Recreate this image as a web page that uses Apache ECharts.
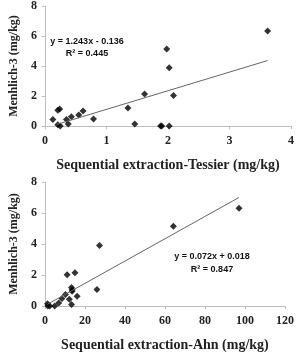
<!DOCTYPE html>
<html><head><meta charset="utf-8">
<script src="https://cdn.jsdelivr.net/npm/echarts@6/dist/echarts.min.js"></script>
<style>html,body{margin:0;padding:0;background:#fff}#c{width:297px;height:359px}</style>
</head><body><div id="c"></div>
<script>
// Top panel: Tessier
const tessierX = [0.13,0.21,0.24,0.21,0.25,0.35,0.38,0.43,0.55,0.62,0.79,1.35,1.46,1.62,1.88,1.90,1.98,2.02,2.02,2.09,3.62];
const tessierY = [0.44,1.05,1.13,0.09,0.00,0.44,0.13,0.61,0.74,1.00,0.46,1.20,0.13,2.14,0.00,0.00,5.14,3.89,0.00,2.03,6.34];
const tessierFit = [1.243,-0.136]; // slope, intercept
const tessierFitX = [0.2,3.62];
const tessierTicksX = [0,1,2,3,4];
const tessierTicksY = [0,2,4,6,8];
// Bottom panel: Ahn
const ahnX = [1.3,1.5,2.4,4.9,6.9,8.5,10.3,11.1,12.2,13.3,13.3,13.6,13.6,15.0,16.1,26.0,27.3,64.2,97.0];
const ahnY = [0.15,0.00,0.00,0.00,0.20,0.48,0.74,2.02,0.43,0.10,1.19,1.05,0.95,2.15,0.63,1.06,3.90,5.14,6.30];
const ahnFit = [0.072,0.018];
const ahnFitX = [1.3,97.0];
const ahnTicksX = [0,20,40,60,80,100,120];
const ahnTicksY = [0,2,4,6,8];
const labels = ['y = 1.243x - 0.136','R\u00b2 = 0.445','y = 0.072x + 0.018','R\u00b2 = 0.847'];
const titlesX = ['Sequential extraction-Tessier (mg/kg)','Sequential extraction-Ahn (mg/kg)'];
const titleY = 'Menhlich-3 (mg/kg)';

const serif = 'Liberation Serif';
const axisCol = '#bdbdbd';
function xAxis(idx, ticks, name){
  return {gridIndex: idx, type:'value', min: ticks[0], max: ticks[ticks.length-1], interval: ticks[1]-ticks[0],
    name: name, nameLocation:'middle', nameGap: 32,
    nameTextStyle:{fontFamily:serif, fontWeight:'bold', fontSize:14, color:'#222'},
    axisLine:{show:true, onZero:false, lineStyle:{color:axisCol}}, axisTick:{show:true, length:3, lineStyle:{color:axisCol}},
    splitLine:{show:false},
    axisLabel:{fontFamily:serif, fontWeight:'bold', fontSize:12, color:'#222', margin:9}};
}
function yAxis(idx, ticks){
  return {gridIndex: idx, type:'value', min: ticks[0], max: ticks[ticks.length-1], interval: ticks[1]-ticks[0],
    name: titleY, nameLocation:'middle', nameGap: 23, nameRotate: 90,
    nameTextStyle:{fontFamily:serif, fontWeight:'bold', fontSize:12, color:'#222'},
    axisLine:{show:true, lineStyle:{color:axisCol}}, axisTick:{show:true, length:3, lineStyle:{color:axisCol}},
    splitLine:{show:false},
    axisLabel:{fontFamily:serif, fontWeight:'bold', fontSize:12, color:'#222', margin:8}};
}
const fitLine = (f, xs) => xs.map(x => [x, f[0]*x + f[1]]);
const zip = (a,b) => a.map((v,i)=>[v,b[i]]);

const chart = echarts.init(document.getElementById('c'), null, {renderer:'canvas'});
chart.setOption({
  animation:false,
  grid:[{left:34, top:4, width:258, height:122},{left:35.5, top:182, width:251, height:124}],
  xAxis:[xAxis(0,tessierTicksX,titlesX[0]), xAxis(1,ahnTicksX,titlesX[1])],
  yAxis:[yAxis(0,tessierTicksY), yAxis(1,ahnTicksY)],
  series:[
    {type:'line', xAxisIndex:0, yAxisIndex:0, data: fitLine(tessierFit, tessierFitX), symbol:'none', lineStyle:{color:'#666', width:1}},
    {type:'scatter', xAxisIndex:0, yAxisIndex:0, data: zip(tessierX,tessierY), symbol:'diamond', symbolSize:7, itemStyle:{color:'#000'}},
    {type:'line', xAxisIndex:1, yAxisIndex:1, data: fitLine(ahnFit, ahnFitX), symbol:'none', lineStyle:{color:'#666', width:1}},
    {type:'scatter', xAxisIndex:1, yAxisIndex:1, data: zip(ahnX,ahnY), symbol:'diamond', symbolSize:7, itemStyle:{color:'#000'}}
  ],
  graphic:[
    {type:'text', x:87, y:42, style:{text:labels[0], fill:'#111', font:'bold 9px "Liberation Sans"', align:'center', verticalAlign:'middle'}},
    {type:'text', x:87, y:54, style:{text:labels[1], fill:'#111', font:'bold 9px "Liberation Sans"', align:'center', verticalAlign:'middle'}},
    {type:'text', x:212, y:257, style:{text:labels[2], fill:'#111', font:'bold 9px "Liberation Sans"', align:'center', verticalAlign:'middle'}},
    {type:'text', x:212, y:270, style:{text:labels[3], fill:'#111', font:'bold 9px "Liberation Sans"', align:'center', verticalAlign:'middle'}}
  ]
});
</script></body></html>
